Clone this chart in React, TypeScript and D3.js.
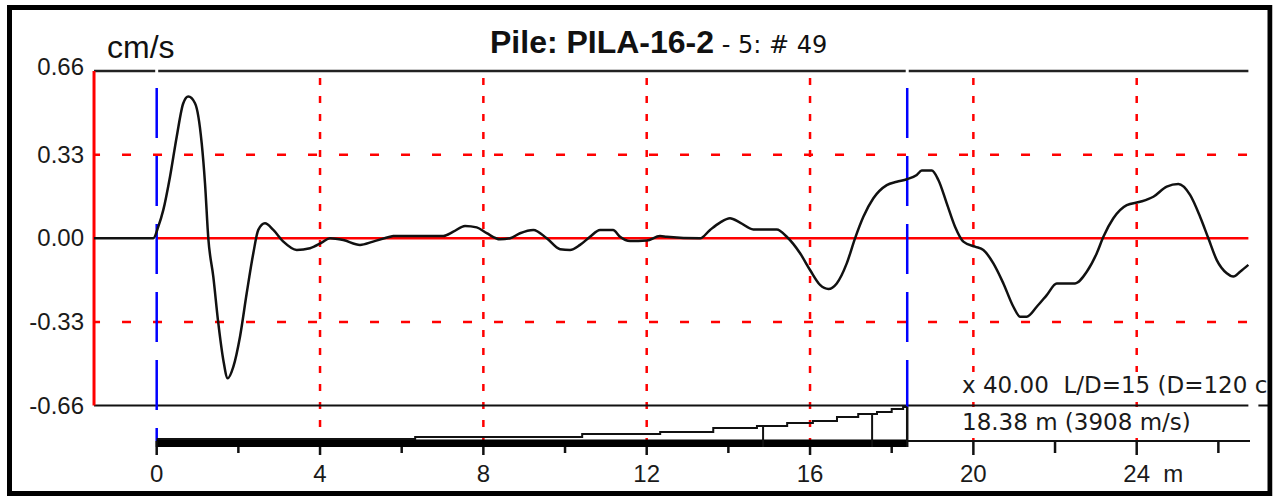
import React from "react";
import * as d3 from "d3";

// ---- data ----
const yTickValues = [0.66, 0.33, 0.0, -0.33, -0.66];
const yTickLabels = ["0.66", "0.33", "0.00", "-0.33", "-0.66"];
const xMajorTicks = [0, 4, 8, 12, 16, 20, 24];
const xMinorTicks = [2, 6, 10, 14, 18, 22, 26];
const gridX = [4, 8, 12, 16, 20, 24];
const gridY = [0.33, -0.33];
const markerDepths = [0, 18.38];

const traceDistance = [
  -1.535, -0.083, 0.039, 0.162, 0.326, 0.49, 0.651, 0.774, 0.938, 1.102, 1.183, 1.264,
  1.386, 1.509, 1.631, 1.739, 1.876, 2.04, 2.204, 2.366, 2.488, 2.652, 2.856, 3.101,
  3.429, 3.755, 4.041, 4.244, 4.57, 4.979, 5.298, 5.714, 5.79, 7.02, 7.264, 7.551,
  7.837, 8.082, 8.408, 8.653, 8.898, 9.224, 9.552, 9.878, 10.122, 10.367, 10.612, 10.857,
  11.175, 11.347, 11.592, 12.001, 12.326, 12.491, 13.306, 13.551, 13.796, 14.04, 14.285,
  14.612, 15.185, 15.43, 15.756, 16.0, 16.245, 16.45, 16.654, 16.899, 17.102, 17.306,
  17.551, 17.879, 18.124, 18.369, 18.614, 18.736, 18.981, 19.143, 19.348, 19.551, 19.755,
  20.041, 20.245, 20.49, 20.735, 20.98, 21.143, 21.307, 21.552, 21.797, 22.042, 22.49,
  22.777, 23.022, 23.184, 23.428, 23.757, 24.082, 24.408, 24.736, 25.02, 25.307, 25.552,
  25.755, 25.961, 26.206, 26.368, 26.532, 26.735,
];
const traceVelocity = [
  0, 0, 0.046, 0.112, 0.243, 0.401, 0.533, 0.559, 0.533, 0.375, 0.217, 0,
  -0.151, -0.335, -0.48, -0.552, -0.507, -0.388, -0.217, -0.059, 0.033, 0.059, 0.033, -0.013,
  -0.046, -0.039, -0.017, 0, -0.007, -0.026, -0.013, 0.006, 0.009, 0.009, 0.026, 0.049,
  0.043, 0.02, -0.004, 0, 0.02, 0.033, 0, -0.043, -0.046, -0.026, 0.006, 0.033,
  0.033, 0.006, -0.011, -0.009, 0.009, 0.006, 0, 0.033, 0.062, 0.079, 0.062,
  0.035, 0.035, 0.006, -0.059, -0.125, -0.184, -0.2, -0.178, -0.099, 0, 0.085,
  0.158, 0.21, 0.223, 0.233, 0.25, 0.267, 0.267, 0.23, 0.138, 0.046, -0.013,
  -0.033, -0.046, -0.099, -0.178, -0.27, -0.309, -0.309, -0.27, -0.224, -0.178, -0.178,
  -0.132, -0.059, 0.006, 0.079, 0.131, 0.144, 0.164, 0.204, 0.214, 0.171, 0.085,
  0, -0.086, -0.138, -0.151, -0.132, -0.105,
];

const profileDepth = [0, 6.33, 10.42, 12.33, 13.63, 14.7, 15.44, 16.07, 16.66, 17.18, 17.64, 18.0, 18.28, 18.38];
const profileLevel = [0, 0.06, 0.16, 0.22, 0.34, 0.41, 0.5, 0.56, 0.69, 0.78, 0.84, 0.94, 1.0, 1.0];
const profileStops = [14.85, 17.52];

const titleMain = "Pile: PILA-16-2";
const titleSub = " - 5: # 49";
const unitLabel = "cm/s";
const noteLine1 = "x 40.00  L/D=15 (D=120 c";
const noteLine2 = "18.38 m (3908 m/s)";

export default function App() {
  const W = 1273;
  const H = 496;
  const x = d3.scaleLinear().domain([0, 24]).range([156.7, 1136.7]);
  const y = d3.scaleLinear().domain([-0.66, 0.66]).range([405.6, 71]);
  const py = d3.scaleLinear().domain([0, 1]).range([439, 407]);

  const left = x(traceDistance[0]);
  const right = x(traceDistance[traceDistance.length - 1]);
  const yTop = y(0.66);
  const yBot = y(-0.66);
  const axisY = 441;
  const baseY = 447;

  const trace = d3
    .line<number>()
    .curve(d3.curveMonotoneX)
    .x((_, i) => x(traceDistance[i]))
    .y((d) => y(d))(traceVelocity) as string;

  const profile = d3
    .line<number>()
    .curve(d3.curveStepAfter)
    .x((_, i) => x(profileDepth[i]))
    .y((d) => py(d))(profileLevel) as string;

  const toe = markerDepths[1];
  const font = "'Liberation Sans', Arial, sans-serif";
  const font2 = "'DejaVu Sans', Verdana, sans-serif";

  const levelAt = (d: number) => {
    let v = profileLevel[0];
    for (let i = 0; i < profileDepth.length; i++) if (profileDepth[i] <= d) v = profileLevel[i];
    return v;
  };

  return (
    <svg
      width={W}
      height={H}
      style={{ position: "fixed", left: 0, top: 0, background: "#fff" }}
    >
      <rect x={0} y={0} width={W} height={H} fill="#fff" />

      {/* title */}
      <text x={490} y={53} fontFamily={font} fill="#111" style={{ whiteSpace: "pre" }}>
        <tspan fontSize={32} fontWeight="bold">{titleMain}</tspan>
        <tspan fontFamily={font2} fontSize={24}>{titleSub}</tspan>
      </text>
      <text x={107} y={58} fontFamily={font} fontSize={32} fill="#111">
        {unitLabel}
      </text>

      {/* horizontal dashed grid */}
      {gridY.map((v) => (
        <line key={"gy" + v} x1={left} x2={right} y1={y(v)} y2={y(v)} stroke="#ff0000" strokeWidth={2.5} strokeDasharray="9,22" strokeDashoffset={3} />
      ))}
      {/* vertical dashed grid */}
      {gridX.map((v) => (
        <line key={"gx" + v} x1={x(v)} x2={x(v)} y1={yTop + 7} y2={axisY} stroke="#ff0000" strokeWidth={2.5} strokeDasharray="7,11" />
      ))}

      {/* zero line */}
      <line x1={x(0)} x2={right} y1={y(0)} y2={y(0)} stroke="#ff0000" strokeWidth={2.5} />

      {/* top border line */}
      <line x1={left} x2={right} y1={yTop} y2={yTop} stroke="#222" strokeWidth={2.5} />
      {markerDepths.map((d) => (
        <rect key={"gap" + d} x={x(d) - 1.5} y={yTop - 2} width={3} height={4} fill="#fff" />
      ))}

      {/* bottom of plot */}
      <line x1={left} x2={1268} y1={yBot} y2={yBot} stroke="#111" strokeWidth={2} />
      <rect x={right} y={yBot - 2} width={10} height={4} fill="#fff" />

      {/* left axis */}
      <line x1={left} x2={left} y1={yTop} y2={yBot} stroke="#ff0000" strokeWidth={3} />

      {/* y tick labels */}
      {yTickValues.map((v, i) => (
        <text key={"yt" + i} x={84} y={y(v) + (i === 0 ? 4 : 8)} textAnchor="end" fontFamily={font} fontSize={24} fill="#1a1a1a">
          {yTickLabels[i]}
        </text>
      ))}

      {/* blue markers */}
      <line x1={x(markerDepths[0])} x2={x(markerDepths[0])} y1={88} y2={axisY} stroke="#0000ff" strokeWidth={2.5} strokeDasharray="50,18" />
      <line x1={x(toe)} x2={x(toe)} y1={88} y2={py(1)} stroke="#0000ff" strokeWidth={2.5} strokeDasharray="50,18" />

      {/* trace */}
      <path d={trace} fill="none" stroke="#111" strokeWidth={2.5} strokeLinejoin="round" />

      {/* bottom axis */}
      <line x1={x(0)} x2={1250} y1={axisY} y2={axisY} stroke="#111" strokeWidth={2} />
      {xMajorTicks.map((v) => (
        <line key={"xM" + v} x1={x(v)} x2={x(v)} y1={axisY} y2={455} stroke="#111" strokeWidth={2.5} />
      ))}
      {xMinorTicks.map((v) => (
        <line key={"xm" + v} x1={x(v)} x2={x(v)} y1={axisY} y2={453} stroke="#111" strokeWidth={2.5} />
      ))}
      {xMajorTicks.map((v) => (
        <text key={"xl" + v} x={x(v)} y={482} textAnchor="middle" fontFamily={font} fontSize={24} fill="#1a1a1a">
          {String(v)}
        </text>
      ))}
      <text x={x(24) + 26.5} y={482} fontFamily={font} fontSize={24} fill="#1a1a1a">m</text>

      {/* pile schematic */}
      <rect x={x(0)} y={439.5} width={x(toe) - x(0)} height={baseY - 439.5} fill="#000" />
      <path d={profile} fill="none" stroke="#111" strokeWidth={2} />
      {profileStops.map((d) => (
        <line key={"ps" + d} x1={x(d)} x2={x(d)} y1={py(levelAt(d))} y2={baseY} stroke="#111" strokeWidth={2} />
      ))}
      <line x1={x(toe)} x2={x(toe)} y1={py(1)} y2={baseY} stroke="#111" strokeWidth={2.5} />
      <line x1={x(0)} x2={x(0)} y1={axisY} y2={baseY} stroke="#111" strokeWidth={2} />

      {/* annotations */}
      <rect x={957} y={372} width={310} height={26} fill="#fff" />
      <text x={962} y={393} fontFamily={font2} fontSize={23} fill="#1a1a1a" style={{ whiteSpace: "pre" }}>{noteLine1}</text>
      <rect x={957} y={407} width={241} height={31} fill="#fff" />
      <text x={962} y={430} fontFamily={font2} fontSize={23} fill="#1a1a1a">{noteLine2}</text>

      {/* frame */}
      <rect x={9.5} y={7.5} width={1260.5} height={486} fill="none" stroke="#000" strokeWidth={5} />
      <rect x={1272.5} y={0} width={1} height={H} fill="#fff" />
    </svg>
  );
}
